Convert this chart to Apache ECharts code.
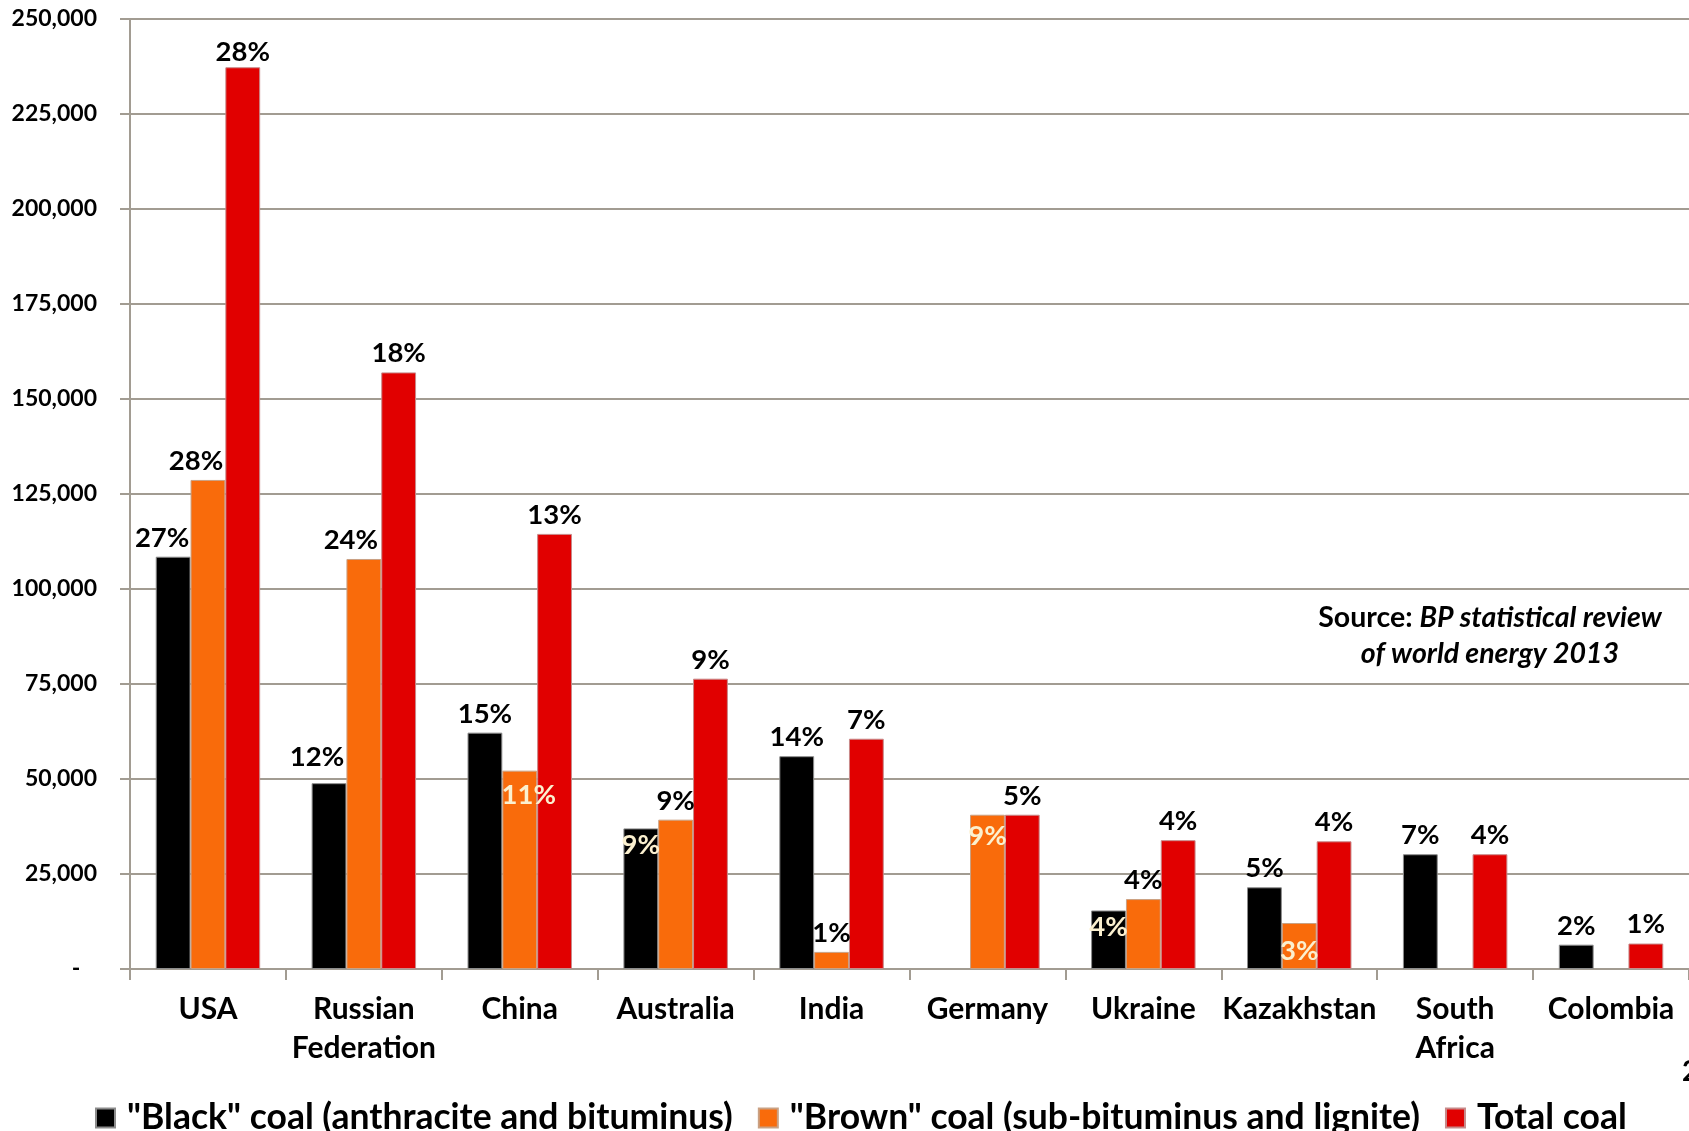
<!DOCTYPE html>
<html>
<head>
<meta charset="utf-8">
<title>Coal reserves by country</title>
<script src="https://cdn.jsdelivr.net/npm/echarts@6/dist/echarts.min.js"></script>
<style>
  html, body { margin: 0; padding: 0; background: #ffffff; }
  #chart { width: 1689px; height: 1131px; }
</style>
</head>
<body>
<div id="chart"></div>
<script>
// Proved coal reserves (million tonnes), end of 2012
const countries = ['USA', 'Russian\nFederation', 'China', 'Australia', 'India', 'Germany', 'Ukraine', 'Kazakhstan', 'South\nAfrica', 'Colombia'];
const blackCoal = [108500, 48900, 62200, 37000, 56000, 0, 15400, 21500, 30200, 6400];
const brownCoal = [128700, 107900, 52200, 39300, 4500, 40600, 18400, 12100, 0, 0];
const totalCoal = [237300, 157000, 114500, 76400, 60600, 40600, 33900, 33600, 30200, 6700];

// Share of world reserves shown above / inside each bar
const blackShare = ['27%', '12%', '15%', '9%', '14%', '', '4%', '5%', '7%', '2%'];
const brownShare = ['28%', '24%', '11%', '9%', '1%', '9%', '4%', '3%', '', ''];
const totalShare = ['28%', '18%', '13%', '9%', '7%', '5%', '4%', '4%', '4%', '1%'];

const yTicks = [0, 25000, 50000, 75000, 100000, 125000, 150000, 175000, 200000, 225000, 250000];

const FONT = 'Lato, "Open Sans", sans-serif';
const GRID_COLOR = '#a29c92';
const CREAM = '#fbf0cf';

// labels placed inside the bar top, and labels nudged to avoid neighbours
const blackInside = [3, 6];
const brownInside = [2, 5, 7];
const blackNudge = { 0: [-11, 0], 1: [-12, -7] };
const brownNudge = { 0: [-12, 0], 1: [-13, 0], 2: [9, 7], 5: [0, 4], 7: [0, 11] };
const totalNudge = { 0: [0, 4] };

function buildData(values, shares, inside, nudge) {
  return values.map(function (v, i) {
    const item = { value: v, label: { formatter: shares[i] } };
    if (v === 0) {
      item.itemStyle = { borderWidth: 0 };
    }
    if (inside.indexOf(i) >= 0) {
      item.label.position = 'insideTop';
      item.label.distance = 3;
      item.label.color = CREAM;
    }
    if (nudge[i] !== undefined) {
      item.label.offset = nudge[i];
    }
    return item;
  });
}

const labelBase = {
  show: true,
  position: 'top',
  distance: 5,
  color: '#000',
  fontFamily: FONT,
  fontWeight: 'bold',
  fontSize: 27.5
};

const chart = echarts.init(document.getElementById('chart'), null, { renderer: 'canvas' });

chart.setOption({
  animation: false,
  backgroundColor: '#ffffff',
  grid: { left: 130, top: 19, right: -2, bottom: 162, containLabel: false },
  legend: {
    left: 90,
    top: 1095,
    itemWidth: 19,
    itemHeight: 19,
    itemGap: 25,
    icon: 'rect',
    textStyle: { fontFamily: FONT, fontWeight: 'bold', fontSize: 35.5, color: '#000', padding: [0, 0, 0, 7] },
    data: ['"Black" coal (anthracite and bituminus)', '"Brown" coal (sub-bituminus and lignite)', 'Total coal']
  },
  xAxis: {
    type: 'category',
    data: countries,
    axisLine: { show: true, lineStyle: { color: GRID_COLOR, width: 2 } },
    axisTick: { show: true, length: 11, lineStyle: { color: GRID_COLOR, width: 2 } },
    axisLabel: {
      margin: 21,
      interval: 0,
      color: '#000',
      fontFamily: FONT,
      fontWeight: 'bold',
      fontSize: 30,
      lineHeight: 39
    }
  },
  yAxis: {
    type: 'value',
    min: 0,
    max: 250000,
    interval: 25000,
    axisLine: { show: true, lineStyle: { color: GRID_COLOR, width: 2 } },
    axisTick: { show: true, length: 10, lineStyle: { color: GRID_COLOR, width: 2 } },
    splitLine: { show: true, lineStyle: { color: GRID_COLOR, width: 2 } },
    axisLabel: {
      margin: 33,
      color: '#000',
      fontFamily: FONT,
      fontWeight: 'bold',
      fontSize: 23,
      customValues: yTicks,
      formatter: function (v) {
        return v === 0 ? '-   ' : v.toLocaleString('en-US');
      }
    }
  },
  series: [
    {
      name: '"Black" coal (anthracite and bituminus)',
      type: 'bar',
      barGap: '0%',
      barCategoryGap: '33%',
      itemStyle: { color: '#000000', borderColor: '#8c8c8c', borderWidth: 1 },
      label: labelBase,
      data: buildData(blackCoal, blackShare, blackInside, blackNudge)
    },
    {
      name: '"Brown" coal (sub-bituminus and lignite)',
      type: 'bar',
      barGap: '0%',
      barCategoryGap: '33%',
      itemStyle: { color: '#f96b0b', borderColor: '#c9a184', borderWidth: 1 },
      label: labelBase,
      data: buildData(brownCoal, brownShare, brownInside, brownNudge)
    },
    {
      name: 'Total coal',
      type: 'bar',
      barGap: '0%',
      barCategoryGap: '33%',
      itemStyle: { color: '#e10000', borderColor: '#c78a8a', borderWidth: 1 },
      label: labelBase,
      data: buildData(totalCoal, totalShare, [], totalNudge)
    }
  ],
  graphic: [
    {
      type: 'text',
      x: 1490,
      y: 636,
      style: {
        text: '{a|Source: }{b|BP statistical review}\n{b|of world energy 2013}',
        align: 'center',
        verticalAlign: 'middle',
        rich: {
          a: { fontFamily: FONT, fontWeight: 'bold', fontSize: 28.5, lineHeight: 36, fill: '#000' },
          b: { fontFamily: FONT, fontWeight: 'bold', fontStyle: 'italic', fontSize: 28.5, lineHeight: 36, fill: '#000' }
        }
      }
    },
    {
      type: 'text',
      x: 1682,
      y: 1072,
      style: {
        text: '2',
        align: 'left',
        verticalAlign: 'middle',
        font: 'bold 28px ' + FONT,
        fill: '#000'
      }
    }
  ]
});
</script>
</body>
</html>
